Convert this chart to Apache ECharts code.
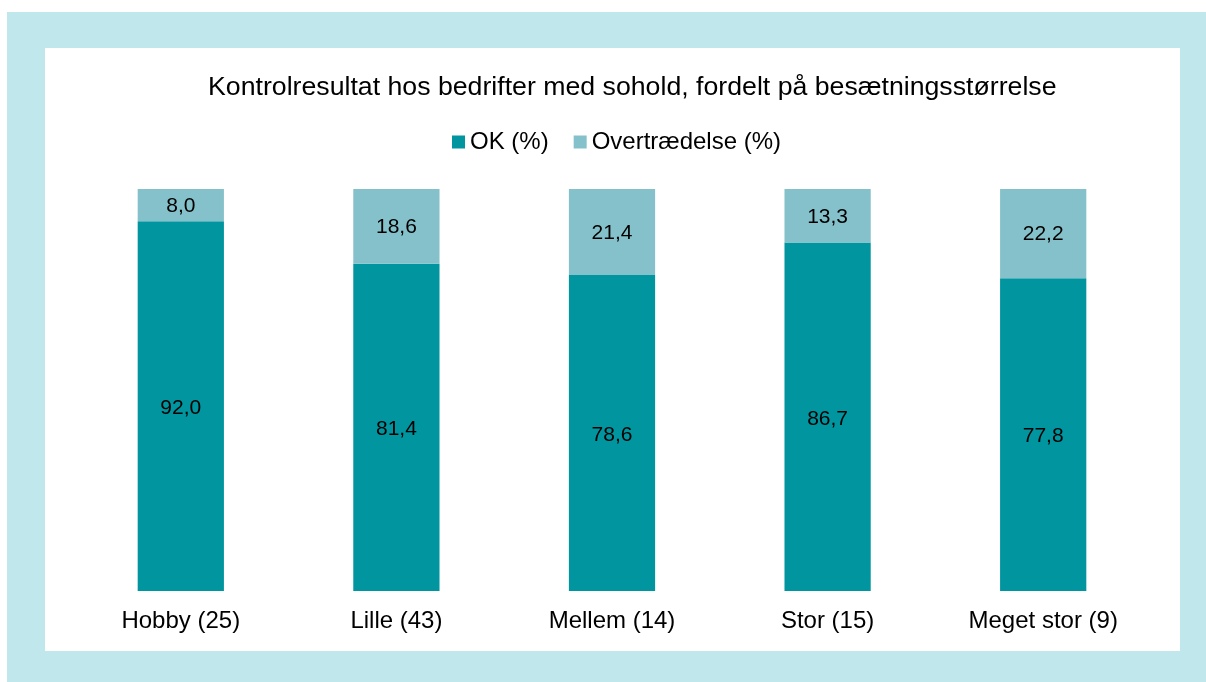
<!DOCTYPE html>
<html>
<head>
<meta charset="utf-8">
<script src="https://cdn.jsdelivr.net/npm/echarts@6/dist/echarts.min.js"></script>
<style>
  html, body { margin: 0; padding: 0; background: #fff; }
  #ramme { position: absolute; left: 7px; top: 12px; width: 1199px; height: 670px; background: #c0e8ec; }
  #chart { position: absolute; left: 38px; top: 36px; width: 1135px; height: 603px; background: #fff; }
</style>
</head>
<body>
<div id="ramme"><div id="chart"></div></div>
<script>
var kategorier = ['Hobby (25)', 'Lille (43)', 'Mellem (14)', 'Stor (15)', 'Meget stor (9)'];
var okData = [92.0, 81.4, 78.6, 86.7, 77.8];
var overtraedelseData = [8.0, 18.6, 21.4, 13.3, 22.2];
var serieNavne = ['OK (%)', 'Overtrædelse (%)'];

var myChart = echarts.init(document.getElementById('chart'));
var fmt = function (p) { return p.value.toFixed(1).replace('.', ','); };

var option = {
    color: ['#00959f', '#85c1ca'],
    textStyle: { fontFamily: 'Liberation Sans, Arial, sans-serif' },
    title: {
        text: 'Kontrolresultat hos bedrifter med sohold, fordelt på besætningsstørrelse',
        left: 158,
        top: 21,
        textStyle: { fontSize: 26.7, fontWeight: 'normal', color: '#000' }
    },
    legend: {
        data: serieNavne,
        top: 77,
        left: 402,
        itemWidth: 13,
        itemHeight: 13,
        itemGap: 25,
        icon: 'rect',
        textStyle: { fontSize: 24, color: '#000' }
    },
    grid: { left: 28, right: 29, top: 141, bottom: 60 },
    xAxis: {
        type: 'category',
        data: kategorier,
        axisLine: { show: false },
        axisTick: { show: false },
        axisLabel: { fontSize: 24, color: '#000', margin: 18 }
    },
    yAxis: { type: 'value', min: 0, max: 100, show: false },
    series: [
        {
            name: serieNavne[0], type: 'bar', stack: 'total', barWidth: '40%',
            data: okData,
            label: { show: true, position: 'inside', fontSize: 21, color: '#000', formatter: fmt, offset: [0, 2] }
        },
        {
            name: serieNavne[1], type: 'bar', stack: 'total', barWidth: '40%',
            data: overtraedelseData,
            label: { show: true, position: 'inside', fontSize: 21, color: '#000', formatter: fmt, offset: [0, 1] }
        }
    ]
};
myChart.setOption(option);
</script>
</body>
</html>
